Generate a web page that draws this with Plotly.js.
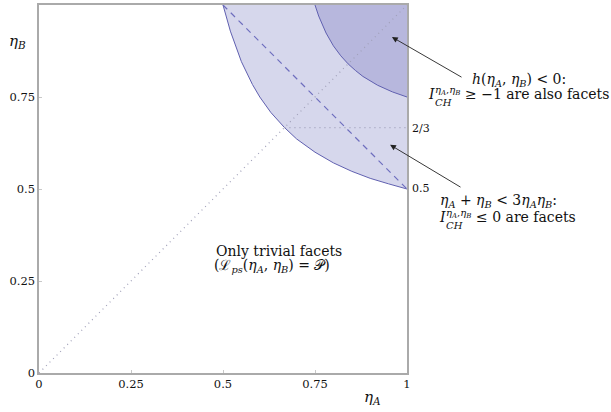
<!DOCTYPE html>
<html><head><meta charset="utf-8">
<script src="https://cdn.plot.ly/plotly-3.0.1.min.js"></script>
<style>body{margin:0;background:#fff}#chart{width:611px;height:412px}</style>
</head><body><div id="chart"></div>
<script>
// Boundary of region eta_A + eta_B < 3 eta_A eta_B
const lightX = [0.5, 0.52, 0.55, 0.58, 0.6, 0.63, 0.667, 0.7, 0.75, 0.8, 0.85, 0.9, 0.95, 1.0];
const lightY = [1.0, 0.929, 0.846, 0.784, 0.75, 0.708, 0.667, 0.636, 0.6, 0.571, 0.548, 0.529, 0.514, 0.5];
// Boundary of region h(eta_A, eta_B) < 0
const darkX = [0.75, 0.76, 0.78, 0.8, 0.82, 0.84, 0.86, 0.88, 0.92, 0.96, 1.0];
const darkY = [1.0, 0.97, 0.924, 0.889, 0.862, 0.84, 0.822, 0.806, 0.782, 0.764, 0.75];
// Dashed line
const dashX = [0.5, 1.0];
const dashY = [1.0, 0.5];
// Dotted guides
const diagX = [0, 1];
const diagY = [0, 1];
const twoThirdX = [0.667, 1.0];
const twoThirdY = [0.667, 0.667];
// Ticks
const tickVals = [0, 0.25, 0.5, 0.75, 1];
const tickText = ['0', '0.25', '0.5', '0.75', '1'];
const corner = [1.0, 1.0];

const SERIF = 'DejaVu Serif';
const lineCol = 'rgb(96,96,176)';

const traces = [
  {x: lightX.concat([corner[0]]), y: lightY.concat([corner[1]]), mode: 'lines', fill: 'toself',
   fillcolor: 'rgb(214,215,236)', line: {width: 0}, hoverinfo: 'skip'},
  {x: darkX.concat([corner[0]]), y: darkY.concat([corner[1]]), mode: 'lines', fill: 'toself',
   fillcolor: 'rgb(183,183,221)', line: {width: 0}, hoverinfo: 'skip'},
  {x: lightX, y: lightY, mode: 'lines', line: {color: lineCol, width: 1}},
  {x: darkX, y: darkY, mode: 'lines', line: {color: lineCol, width: 1}},
  {x: dashX, y: dashY, mode: 'lines', line: {color: 'rgb(110,110,190)', width: 1.2, dash: '6px,5px'}},
  {x: diagX, y: diagY, mode: 'lines', line: {color: 'rgb(160,160,185)', width: 1.2, dash: '1px,4px'}},
  {x: twoThirdX, y: twoThirdY, mode: 'lines', line: {color: 'rgb(160,160,185)', width: 1.2, dash: '1px,4px'}}
];

function px(p){ return (p-39)/368; }
function py(p){ return (373-p)/368; }
const f = (s)=>({family: SERIF, size: s, color: '#111'});
const eA = '<i>η</i><sub><i>A</i></sub>', eB = '<i>η</i><sub><i>B</i></sub>';
const T = 14;
const stack = '<i>η</i><sub><i>A</i></sub>,<i>η</i><sub><i>B</i></sub><br><i>CH</i>';

function txt(x, y, text, size, xanchor){
  return {xref:'paper', yref:'paper', x:px(x), y:py(y), xanchor:xanchor||'center', yanchor:'middle',
          text:text, showarrow:false, align:'left', font:f(size)};
}

const ann = [
  txt(17, 41, '<i>η</i><sub><i>B</i></sub>', 15),
  txt(372, 397, '<i>η</i><sub><i>A</i></sub>', 15),
  txt(410, 128, '2/3', 11, 'left'),
  txt(410, 188, '0.5', 11, 'left'),
  // middle text
  txt(214, 251, 'Only trivial facets', T, 'left'),
  txt(212, 266, '(ℒ<sub><i>ps</i></sub>('+eA+', '+eB+') = 𝒫)', T, 'left'),
  // arrows
  {xref:'x', yref:'y', axref:'x', ayref:'y', x:0.959, y:0.913, ax:px(463), ay:py(78), text:'', showarrow:true,
   arrowhead:2, arrowsize:1.3, arrowwidth:0.9, arrowcolor:'#222'},
  {xref:'x', yref:'y', axref:'x', ayref:'y', x:0.954, y:0.62, ax:px(462), ay:py(188), text:'', showarrow:true,
   arrowhead:2, arrowsize:1.3, arrowwidth:0.9, arrowcolor:'#222'},
  // annotation 1
  txt(470, 80, '<i>h</i>('+eA+', '+eB+') &lt; 0:', T, 'left'),
  txt(426, 94, '<i>I</i>', T, 'left'),
  txt(433, 96, stack, 10, 'left'),
  txt(463, 94, '≥ −1 are also facets', T, 'left'),
  // annotation 2
  txt(438, 201, eA+' + '+eB+' &lt; 3'+eA+eB+':', T, 'left'),
  txt(437, 217, '<i>I</i>', T, 'left'),
  txt(444, 219, stack, 10, 'left'),
  txt(474, 217, '≤ 0 are facets', T, 'left')
];

const axisCommon = {range:[0,1], tickvals:tickVals, ticktext:tickText, ticks:'inside', ticklen:3,
  tickcolor:'#c8c8c8', tickwidth:1, showline:true, linecolor:'#aaaaaa', linewidth:1.6, mirror:true,
  showgrid:false, zeroline:false, tickfont:f(11.5), fixedrange:true};

const layout = {
  width:611, height:412, margin:{l:39, r:204, t:5, b:39},
  paper_bgcolor:'#fff', plot_bgcolor:'#fff', showlegend:false,
  xaxis: Object.assign({}, axisCommon),
  yaxis: Object.assign({}, axisCommon),
  annotations: ann
};
Plotly.newPlot('chart', traces, layout, {displayModeBar:false, staticPlot:true});
</script></body></html>
